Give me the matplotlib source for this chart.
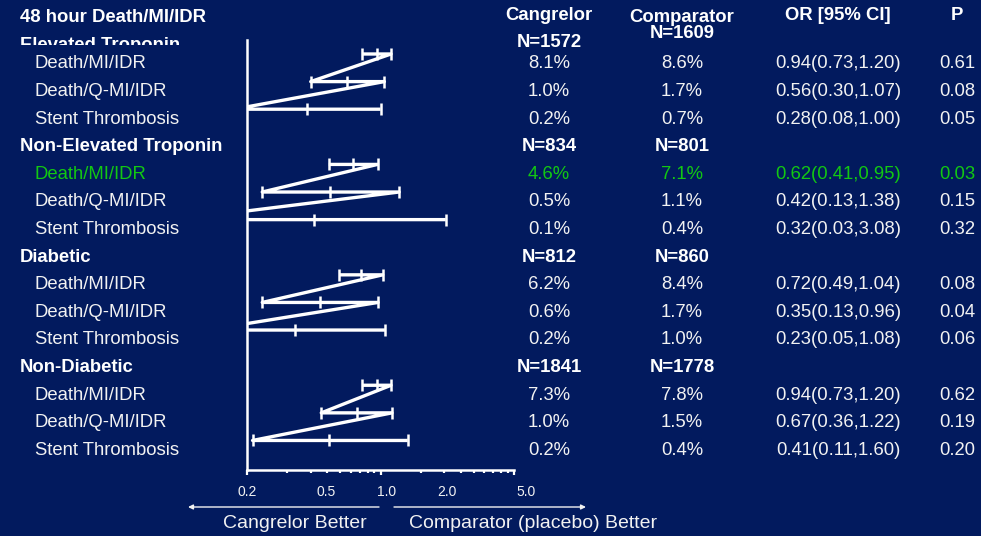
import matplotlib
matplotlib.use("Agg")
import matplotlib.pyplot as plt
from matplotlib.ticker import FixedLocator, NullLocator, NullFormatter
from matplotlib.transforms import Bbox, TransformedBbox, blended_transform_factory
from matplotlib.patches import FancyArrowPatch

# ---- data -------------------------------------------------------------
groups = ["Elevated Troponin", "Non-Elevated Troponin", "Diabetic", "Non-Diabetic"]
n_cangrelor = ["N=1572", "N=834", "N=812", "N=1841"]
n_comparator = ["N=1609", "N=801", "N=860", "N=1778"]
endpoints = ["Death/MI/IDR", "Death/Q-MI/IDR", "Stent Thrombosis"]

cangrelor_rate = [8.1, 1.0, 0.2, 4.6, 0.5, 0.1, 6.2, 0.6, 0.2, 7.3, 1.0, 0.2]
comparator_rate = [8.6, 1.7, 0.7, 7.1, 1.1, 0.4, 8.4, 1.7, 1.0, 7.8, 1.5, 0.4]
odds_ratio = [0.94, 0.56, 0.28, 0.62, 0.42, 0.32, 0.72, 0.35, 0.23, 0.94, 0.67, 0.41]
ci_low = [0.73, 0.30, 0.08, 0.41, 0.13, 0.03, 0.49, 0.13, 0.05, 0.73, 0.36, 0.11]
ci_high = [1.20, 1.07, 1.00, 0.95, 1.38, 3.08, 1.04, 0.96, 1.08, 1.20, 1.22, 1.60]
p_value = [0.61, 0.08, 0.05, 0.03, 0.15, 0.32, 0.08, 0.04, 0.06, 0.62, 0.19, 0.20]
highlight = [3]

scale_ticks = [0.2, 0.5, 1.0, 2.0, 5.0]
scale_labels = ["0.2", "0.5", "1.0", "2.0", "5.0"]

# ---- style ------------------------------------------------------------
W, H = 981, 536
BG = "#021a5e"
FG = "#f2f2f2"
GREEN = "#12c812"
plt.rcParams["font.family"] = ["Liberation Sans", "DejaVu Sans"]
FS = 13.3


def fx(px):
    return px / W


def fy(py):
    return 1 - py / H


fig = plt.figure(figsize=(W / 100, H / 100), dpi=100, facecolor=BG)

# ---- forest plot ------------------------------------------------------
ax = fig.add_axes([fx(247), fy(470), fx(514) - fx(247), fy(40) - fy(470)])
ax.set_facecolor("none")
ax.set_xscale("log")
ax.set_xlim(0.1, 10)
ax.set_ylim(15.07, -0.507)

for g in range(len(groups)):
    xs, ys = [], []
    for r in range(len(endpoints)):
        i = 3 * g + r
        slot = 4 * g + r
        xs += [ci_low[i], odds_ratio[i], ci_high[i]]
        ys += [slot] * 3
    ax.plot(xs, ys, color="white", lw=2.4, marker="|", ms=8, mew=1.8,
            solid_capstyle="butt")

for side in ("top", "right"):
    ax.spines[side].set_visible(False)
for side in ("left", "bottom"):
    ax.spines[side].set_color("white")
    ax.spines[side].set_linewidth(1.8)
ax.xaxis.set_major_locator(FixedLocator([0.1, 1, 10]))
ax.xaxis.set_minor_locator(FixedLocator([0.2, 0.3, 0.4, 0.5, 0.6, 0.7, 0.8, 0.9,
                                         2, 3, 4, 5, 6, 7, 8, 9]))
ax.xaxis.set_major_formatter(NullFormatter())
ax.xaxis.set_minor_formatter(NullFormatter())
ax.tick_params(axis="x", which="major", direction="out", length=3.5, width=1.6, color="white")
ax.tick_params(axis="x", which="minor", direction="out", length=1.8, width=1.6, color="white")
ax.set_yticks([])

# odds-ratio scale labels
lab_ax = fig.add_axes([fx(247), fy(485), fx(526) - fx(247), 0.0001])
lab_ax.set_facecolor("none")
lab_ax.set_xscale("log")
lab_ax.set_xlim(scale_ticks[0], scale_ticks[-1])
lab_ax.xaxis.set_major_locator(FixedLocator(scale_ticks))
lab_ax.xaxis.set_minor_locator(NullLocator())
lab_ax.set_xticklabels(scale_labels)
lab_ax.tick_params(axis="x", length=0, pad=0, labelsize=10, labelcolor=FG)
lab_ax.set_yticks([])
for s in lab_ax.spines.values():
    s.set_visible(False)

# ---- text table -------------------------------------------------------
row_tr = blended_transform_factory(fig.transFigure, ax.transData)
COL_CANG, COL_COMP, COL_OR, COL_P = fx(549), fx(682), fx(838), fx(957)

fig.text(fx(20), fy(17), "48 hour Death/MI/IDR", fontsize=FS, fontweight="bold",
         color="white", va="center")
fig.text(COL_CANG, fy(16), "Cangrelor", fontsize=FS, fontweight="bold",
         color="white", ha="center", va="center")
fig.text(COL_COMP, fy(18), "Comparator", fontsize=FS, fontweight="bold",
         color="white", ha="center", va="center")
fig.text(COL_OR, fy(15), "OR [95% CI]", fontsize=FS, fontweight="bold",
         color="white", ha="center", va="center")
fig.text(COL_P, fy(15), "P", fontsize=FS, fontweight="bold",
         color="white", ha="center", va="center")

TXT = 0.36
for g, name in enumerate(groups):
    if g == 0:
        t = fig.text(fx(20), fy(45), name, fontsize=FS, fontweight="bold",
                     color="white", va="center")
        t.set_clip_box(TransformedBbox(Bbox([[0, fy(44.5)], [1, 1]]), fig.transFigure))
        t.set_clip_on(True)
        fig.text(COL_CANG, fy(42), n_cangrelor[g], fontsize=FS, fontweight="bold",
                 color="white", ha="center", va="center")
        fig.text(COL_COMP, fy(34), n_comparator[g], fontsize=FS, fontweight="bold",
                 color="white", ha="center", va="center")
    else:
        hy = 4 * g - 1 + TXT
        fig.text(fx(20), hy, name, transform=row_tr, fontsize=FS, fontweight="bold",
                 color="white", va="center")
        fig.text(COL_CANG, hy, n_cangrelor[g], transform=row_tr, fontsize=FS,
                 fontweight="bold", color="white", ha="center", va="center")
        fig.text(COL_COMP, hy, n_comparator[g], transform=row_tr, fontsize=FS,
                 fontweight="bold", color="white", ha="center", va="center")
    for r, ep in enumerate(endpoints):
        i = 3 * g + r
        y = 4 * g + r + TXT
        c = GREEN if i in highlight else FG
        kw = dict(transform=row_tr, fontsize=FS, color=c, va="center")
        fig.text(fx(35), y, ep, **kw)
        fig.text(COL_CANG, y, f"{cangrelor_rate[i]:.1f}%", ha="center", **kw)
        fig.text(COL_COMP, y, f"{comparator_rate[i]:.1f}%", ha="center", **kw)
        fig.text(COL_OR, y, f"{odds_ratio[i]:.2f}({ci_low[i]:.2f},{ci_high[i]:.2f})",
                 ha="center", **kw)
        fig.text(COL_P, y, f"{p_value[i]:.2f}", ha="center", **kw)

# ---- direction arrows -------------------------------------------------
for x0, x1 in ((379, 188), (394, 586)):
    fig.add_artist(FancyArrowPatch((fx(x0), fy(507)), (fx(x1), fy(507)),
                                   transform=fig.transFigure, arrowstyle="-|>",
                                   mutation_scale=7, lw=1.0, color=FG,
                                   shrinkA=0, shrinkB=0))
fig.text(fx(295), fy(523), "Cangrelor Better", fontsize=14, color=FG,
         ha="center", va="center")
fig.text(fx(409), fy(523), "Comparator (placebo) Better", fontsize=14, color=FG,
         ha="left", va="center")

fig.savefig("out.png", dpi=100, facecolor=BG)
